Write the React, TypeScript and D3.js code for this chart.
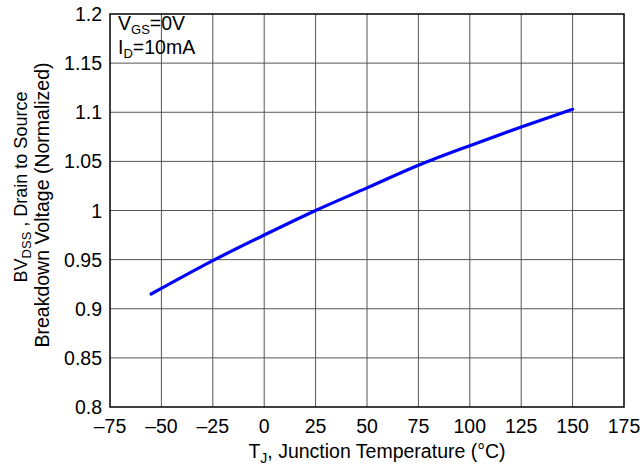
import React from "react";
import * as d3 from "d3";

const temps = [-55, -25, 0, 25, 50, 75, 100, 125, 150];
const bvdss = [0.915, 0.949, 0.975, 1.0, 1.023, 1.046, 1.066, 1.085, 1.103];
const xTicks = [-75, -50, -25, 0, 25, 50, 75, 100, 125, 150, 175];
const yTicks = [0.8, 0.85, 0.9, 0.95, 1, 1.05, 1.1, 1.15, 1.2];

const W = 642;
const H = 470;
const M = { left: 110, right: 624, top: 14, bottom: 407 };
const FONT = "'Liberation Sans', Arial, Helvetica, sans-serif";
const FS = 19.5;
const SUB = 13;

export default function App() {
  const x = d3.scaleLinear().domain([-75, 175]).range([M.left, M.right]);
  const y = d3.scaleLinear().domain([0.8, 1.2]).range([M.bottom, M.top]);
  const pts: [number, number][] = temps.map((t, i) => [t, bvdss[i]]);
  const line = d3
    .line<[number, number]>()
    .x((d) => x(d[0]))
    .y((d) => y(d[1]))
    .curve(d3.curveMonotoneX);

  return (
    <svg
      width={W}
      height={H}
      style={{ position: "absolute", left: 0, top: 0, background: "#fff" }}
      fontFamily={FONT}
    >
      <rect width={W} height={H} fill="#fff" />
      {xTicks.slice(1, -1).map((t) => (
        <line key={"gx" + t} x1={x(t)} x2={x(t)} y1={M.top} y2={M.bottom} stroke="#555" strokeWidth={1} />
      ))}
      {yTicks.slice(1, -1).map((t) => (
        <line key={"gy" + t} x1={M.left} x2={M.right} y1={y(t)} y2={y(t)} stroke="#555" strokeWidth={1} />
      ))}
      <rect
        x={M.left}
        y={M.top}
        width={M.right - M.left}
        height={M.bottom - M.top}
        fill="none"
        stroke="#000"
        strokeWidth={1.5}
      />
      <path d={line(pts) || ""} fill="none" stroke="#0000ff" strokeWidth={3.2} strokeLinecap="round" />

      {xTicks.map((t) => (
        <text key={"xt" + t} x={x(t)} y={433} fontSize={FS} textAnchor="middle" fill="#000">
          {t < 0 ? "\u2013" + Math.abs(t) : String(t)}
        </text>
      ))}
      {yTicks.map((t) => (
        <text key={"yt" + t} x={102} y={y(t) + 7} fontSize={FS} textAnchor="end" fill="#000">
          {String(t)}
        </text>
      ))}

      <text x={377} y={458} fontSize={FS} textAnchor="middle" fill="#000">
        T<tspan fontSize={SUB + 1} dy={5}>J</tspan>
        <tspan dy={-5}>, Junction Temperature (°C)</tspan>
      </text>

      <g transform="translate(27, 187) rotate(-90)">
        <text x={0} y={0} fontSize={18} textAnchor="middle" fill="#000">
          BV<tspan fontSize={SUB} dy={4}>DSS</tspan>
          <tspan dy={-4}> , Drain to Source</tspan>
        </text>
      </g>
      <g transform="translate(49, 205) rotate(-90)">
        <text x={0} y={0} fontSize={FS} textAnchor="middle" fill="#000">
          Breakdown Voltage (Normalized)
        </text>
      </g>

      <text x={118} y={30} fontSize={FS} fill="#000">
        V<tspan fontSize={SUB} dy={4}>GS</tspan>
        <tspan dy={-4}>=0V</tspan>
      </text>
      <text x={118} y={54} fontSize={FS} fill="#000">
        I<tspan fontSize={SUB} dy={4}>D</tspan>
        <tspan dy={-4}>=10mA</tspan>
      </text>
    </svg>
  );
}
